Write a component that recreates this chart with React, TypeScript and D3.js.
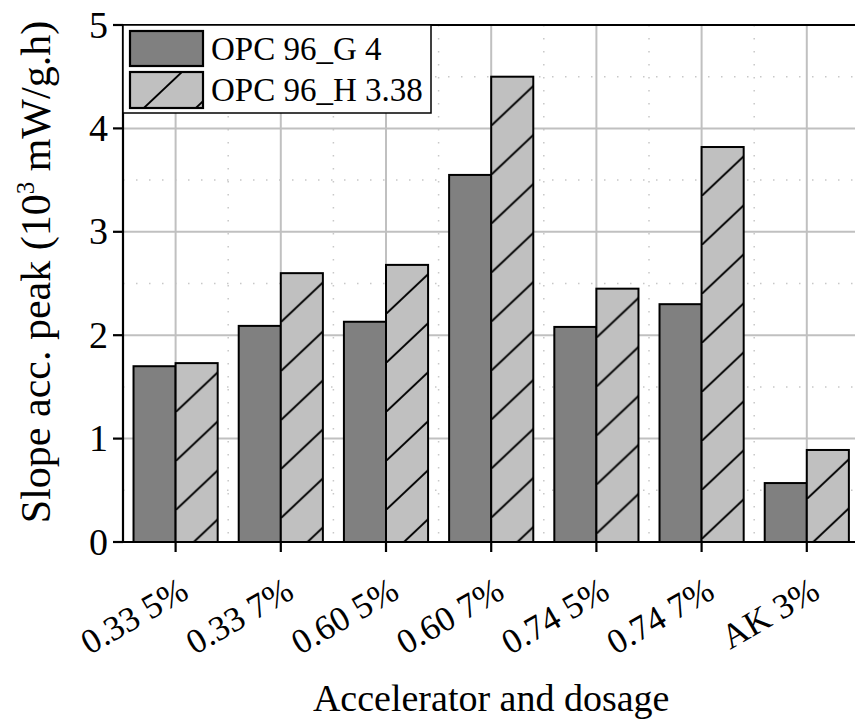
import React from "react";
import * as d3 from "d3";

// Accelerator / dosage groups along the x axis
const categories = ["0.33 5%", "0.33 7%", "0.60 5%", "0.60 7%", "0.74 5%", "0.74 7%", "AK 3%"];
// Series names as shown in the legend
const seriesNames = ["OPC 96_G 4", "OPC 96_H 3.38"];
// Slope of the acceleration peak (10^3 mW/g.h)
const valuesG = [1.70, 2.09, 2.13, 3.55, 2.08, 2.30, 0.57];
const valuesH = [1.73, 2.60, 2.68, 4.50, 2.45, 3.82, 0.89];
// Y axis ticks
const yTicks = [0, 1, 2, 3, 4, 5];
const yMinorTicks = [0.5, 1.5, 2.5, 3.5, 4.5];

const W = 855;
const H = 722;
const left = 123;
const top = 25;
const bottom = 542;
const right = 859.4;

const FONT = "'Liberation Serif', 'Times New Roman', Times, serif";
const DARK = "#808080";
const LIGHT = "#c0c0c0";
const GRID = "#c0c0c0";

const HATCH_W = 52;
const HATCH_H = 49;

export default function App() {
  const x0 = d3
    .scaleBand<string>()
    .domain(categories)
    .range([left, right])
    .paddingInner(0.2)
    .paddingOuter(0.1);
  const x1 = d3
    .scaleBand<string>()
    .domain(["G", "H"])
    .range([0, x0.bandwidth()]);
  const y = d3.scaleLinear().domain([0, 5]).range([bottom, top]);

  const step = x0.step();
  const centers = categories.map((c) => (x0(c) as number) + x0.bandwidth() / 2);
  const boundaries = d3.range(1, categories.length).map((i) => left + i * step);

  const barsG = categories.map((c, i) => ({
    x: (x0(c) as number) + (x1("G") as number),
    y: y(valuesG[i]),
    w: x1.bandwidth(),
    h: y(0) - y(valuesG[i]),
  }));
  const barsH = categories.map((c, i) => ({
    x: (x0(c) as number) + (x1("H") as number),
    y: y(valuesH[i]),
    w: x1.bandwidth(),
    h: y(0) - y(valuesH[i]),
  }));

  // legend layout
  const lg = { x: left, y: top, w: 308, h: 88 };
  const sw = [
    { x: 130, y: 31, w: 73, h: 35 },
    { x: 130, y: 72, w: 73, h: 36 },
  ];

  const hatchPattern = (id: string, px: number, py: number) => (
    <pattern
      key={id}
      id={id}
      patternUnits="userSpaceOnUse"
      x={px}
      y={py}
      width={HATCH_W}
      height={HATCH_H}
    >
      <rect width={HATCH_W} height={HATCH_H} fill={LIGHT} />
      <line x1={-2} y1={HATCH_H + 2 * (HATCH_H / HATCH_W)} x2={HATCH_W + 2} y2={-2 * (HATCH_H / HATCH_W)} stroke="#000" strokeWidth={2} />
    </pattern>
  );

  return (
    <svg
      width={W}
      height={H}
      style={{ position: "absolute", left: 0, top: 0, background: "#fff" }}
      fontFamily={FONT}
    >
      <defs>
        {barsH.map((b, i) => hatchPattern(`hatch-${i}`, b.x, b.y))}
        {hatchPattern("hatch-legend", sw[1].x, sw[1].y)}
      </defs>
      <rect width={W} height={H} fill="#fff" />

      {/* minor grid */}
      <g stroke="#c8c8c8" strokeWidth={1.5} strokeDasharray="1.5 11.5">
        {yMinorTicks.map((t) => (
          <line key={`ym${t}`} x1={left} x2={right} y1={y(t)} y2={y(t)} />
        ))}
        {boundaries.map((bx, i) => (
          <line key={`xm${i}`} x1={bx} x2={bx} y1={top} y2={bottom} />
        ))}
      </g>

      {/* major grid */}
      <g stroke={GRID} strokeWidth={2}>
        {yTicks.slice(1, -1).map((t) => (
          <line key={`yg${t}`} x1={left} x2={right} y1={y(t)} y2={y(t)} />
        ))}
        {centers.map((cx, i) => (
          <line key={`xg${i}`} x1={cx} x2={cx} y1={top} y2={bottom} />
        ))}
      </g>

      {/* bars */}
      <g stroke="#000" strokeWidth={2}>
        {barsG.map((b, i) => (
          <rect key={`g${i}`} x={b.x} y={b.y} width={b.w} height={b.h} fill={DARK} />
        ))}
        {barsH.map((b, i) => (
          <rect key={`h${i}`} x={b.x} y={b.y} width={b.w} height={b.h} fill={`url(#hatch-${i})`} />
        ))}
      </g>

      {/* axes */}
      <g stroke="#000" strokeWidth={2.2}>
        <line x1={left} x2={W} y1={top} y2={top} />
        <line x1={left} x2={left} y1={top - 1} y2={bottom + 1} />
        <line x1={left - 1} x2={W} y1={bottom} y2={bottom} />
        {yTicks.map((t) => (
          <line key={`yt${t}`} x1={left - 10} x2={left} y1={y(t)} y2={y(t)} />
        ))}
        {centers.map((cx, i) => (
          <line key={`xt${i}`} x1={cx} x2={cx} y1={bottom} y2={bottom + 10} />
        ))}
      </g>

      {/* y tick labels */}
      <g fontSize={38} textAnchor="end" fill="#000">
        {yTicks.map((t) => (
          <text key={`yl${t}`} x={108} y={y(t) + 12.5}>
            {t}
          </text>
        ))}
      </g>

      {/* x tick labels */}
      <g fontSize={35} textAnchor="end" fill="#000">
        {categories.map((c, i) => (
          <text key={`xl${i}`} transform={`translate(${centers[i] + 15},${597}) rotate(-30)`}>
            {c}
          </text>
        ))}
      </g>

      {/* axis titles */}
      <text x={(left + right) / 2} y={711} fontSize={38} textAnchor="middle" fill="#000">
        Accelerator and dosage
      </text>
      <text transform="translate(50,272) rotate(-90)" fontSize={42} textAnchor="middle" fill="#000">
        Slope acc. peak (10
        <tspan fontSize={25} dy={-16}>3</tspan>
        <tspan dy={16}> mW/g.h)</tspan>
      </text>

      {/* legend */}
      <rect x={lg.x} y={lg.y} width={lg.w} height={lg.h} fill="#fff" stroke="#000" strokeWidth={1.5} />
      <rect x={sw[0].x} y={sw[0].y} width={sw[0].w} height={sw[0].h} fill={DARK} stroke="#000" strokeWidth={2.2} />
      <rect x={sw[1].x} y={sw[1].y} width={sw[1].w} height={sw[1].h} fill="url(#hatch-legend)" stroke="#000" strokeWidth={2.2} />
      <g fontSize={33} fill="#000">
        <text x={211} y={60}>{seriesNames[0]}</text>
        <text x={211} y={101}>{seriesNames[1]}</text>
      </g>
    </svg>
  );
}
